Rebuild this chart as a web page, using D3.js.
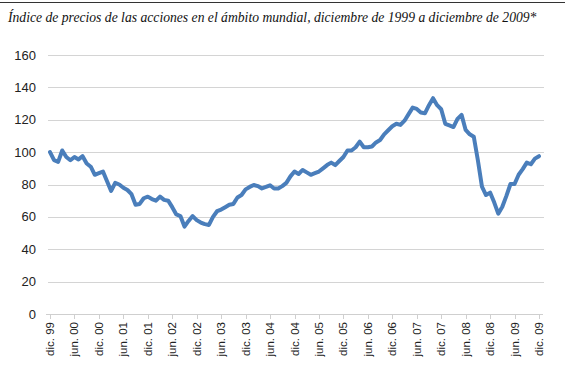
<!DOCTYPE html>
<html>
<head>
<meta charset="utf-8">
<script src="https://cdn.jsdelivr.net/npm/d3@7"></script>
<style>
  body { margin: 0; background: #fff; }
  svg { display: block; }
</style>
</head>
<body>
<svg id="chart" width="565" height="370"></svg>
<script>
// indice mensual, dic.1999 = 100
var values = [
  100, 95, 94, 101, 97, 95, 97, 95.5, 97.5, 93, 91, 86,
  87, 88, 82, 76, 81, 80, 78, 76.6, 74, 67.5, 68, 71.5,
  72.5, 71, 70, 72.5, 70.5, 70, 66, 61.5, 60.5, 54, 57.5, 60.5,
  58, 56.5, 55.5, 55, 60, 63.5, 64.5, 66, 67.5, 68, 72, 73.5,
  77, 78.5, 79.7, 79, 77.6, 78.5, 79.5, 77.5, 77.5, 79, 81, 85,
  88, 86.5, 89, 87.5, 86, 87, 88, 90, 92, 93.5, 92, 94.5,
  97, 101, 101, 103, 106.5, 103, 103, 103.5, 106, 107.5, 111, 113.5,
  116, 117.5, 116.8, 119.4, 123.5, 127.5, 126.7, 124.5, 124, 129, 133.3, 129,
  126.5, 117.5, 116.5, 115.5, 120.5, 123, 113.7, 111, 109.5, 95, 78.7, 73.5,
  75, 69, 62, 66.3, 73, 80.3, 80.3, 86, 89.5, 93.5, 92.5, 96,
  97.5
];
var tickLabels = ["dic. 99", "jun. 00", "dic. 00", "jun. 01", "dic. 01", "jun. 02", "dic. 02",
  "jun. 03", "dic. 03", "jun. 04", "dic. 04", "jun. 05", "dic. 05", "jun. 06", "dic. 06",
  "jun. 07", "dic. 07", "jun. 08", "dic. 08", "jun. 09", "dic. 09"];
var yTicks = [0, 20, 40, 60, 80, 100, 120, 140, 160];
var title = "Índice de precios de las acciones en el ámbito mundial, diciembre de 1999 a diciembre de 2009*";

var svg = d3.select("#chart");
var W = 565, H = 370;

// top rule
svg.append("line")
  .attr("x1", 0).attr("x2", W).attr("y1", 2.5).attr("y2", 2.5)
  .attr("stroke", "#333").attr("stroke-width", 1.2);

var t = svg.append("text")
  .attr("x", 8).attr("y", 22)
  .attr("font-family", "'Liberation Serif', 'DejaVu Serif', serif")
  .attr("font-style", "italic")
  .attr("font-size", 15)
  .attr("fill", "#111")
  .text(title);
// fit title width to the reference
var tw = t.node().getComputedTextLength();
t.attr("font-size", 15 * 529 / tw);

var x = d3.scaleLinear().domain([0, values.length - 1]).range([50, 539]);
var y = d3.scaleLinear().domain([0, 160]).range([314, 55]);

// grid
svg.append("g").selectAll("line")
  .data(yTicks.filter(function(d) { return d > 0; }))
  .join("line")
  .attr("x1", 48).attr("x2", 544)
  .attr("y1", function(d) { return Math.round(y(d)) + 0.5; })
  .attr("y2", function(d) { return Math.round(y(d)) + 0.5; })
  .attr("stroke", "#d4d4d4").attr("stroke-width", 1);

// y labels
svg.append("g").selectAll("text")
  .data(yTicks)
  .join("text")
  .attr("x", 36)
  .attr("y", function(d) { return y(d); })
  .attr("dy", "0.35em")
  .attr("text-anchor", "end")
  .attr("font-family", "'Liberation Sans', Arial, sans-serif")
  .attr("font-size", 13)
  .attr("fill", "#222")
  .text(function(d) { return d; });

// x axis
var xa = svg.append("g");
xa.append("line")
  .attr("x1", 46).attr("x2", 543)
  .attr("y1", 314.5).attr("y2", 314.5)
  .attr("stroke", "#cfcfcf");
var tickIdx = tickLabels.map(function(d, i) { return i * 6; });
xa.selectAll("line.tk")
  .data(tickIdx)
  .join("line")
  .attr("class", "tk")
  .attr("x1", function(d) { return Math.round(x(d)) + 0.5; })
  .attr("x2", function(d) { return Math.round(x(d)) + 0.5; })
  .attr("y1", 314).attr("y2", 319)
  .attr("stroke", "#cfcfcf");
xa.selectAll("text")
  .data(tickLabels)
  .join("text")
  .attr("transform", function(d, i) { return "translate(" + (x(i * 6) + 4) + ",322) rotate(-90)"; })
  .attr("text-anchor", "end")
  .attr("font-family", "'Liberation Sans', Arial, sans-serif")
  .attr("font-size", 11.5)
  .attr("fill", "#222")
  .text(function(d) { return d; });

// series
var line = d3.line()
  .x(function(d, i) { return x(i); })
  .y(function(d) { return y(d); });
svg.append("path")
  .datum(values)
  .attr("d", line)
  .attr("fill", "none")
  .attr("stroke", "#4a7ebb")
  .attr("stroke-width", 4)
  .attr("stroke-linejoin", "round")
  .attr("stroke-linecap", "round");
</script>
</body>
</html>
